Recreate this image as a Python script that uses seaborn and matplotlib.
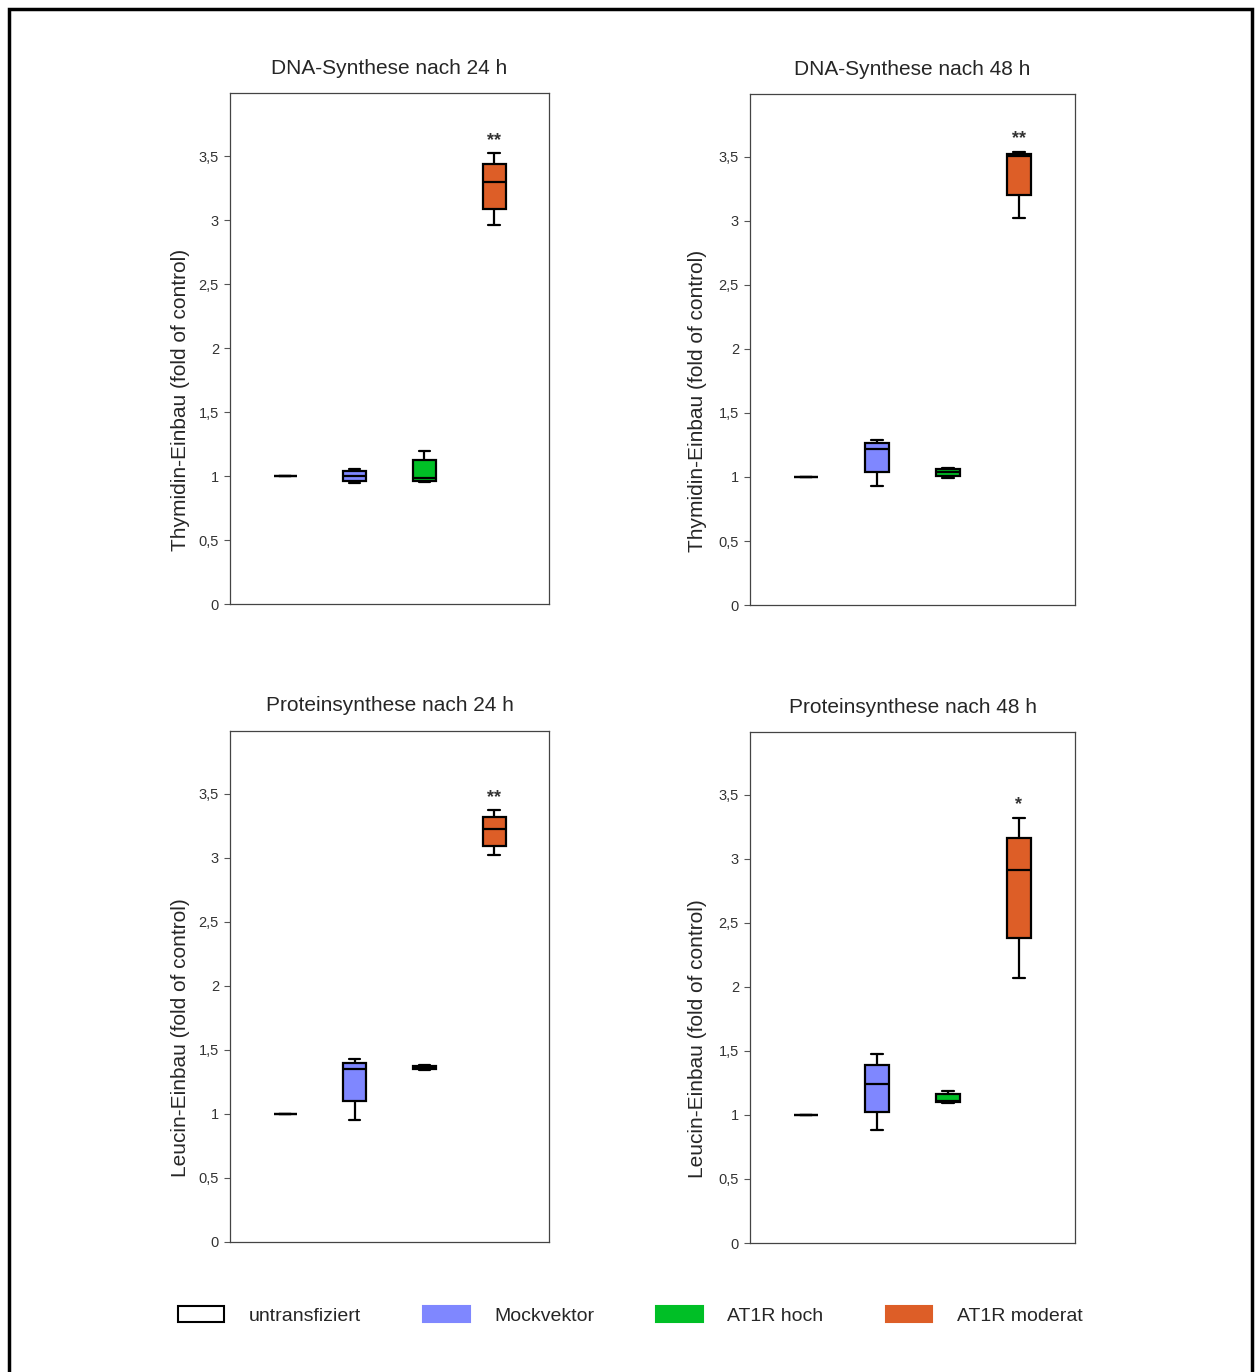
import seaborn as sns
import pandas as pd
import matplotlib as mpl
import matplotlib.pyplot as plt
from matplotlib.patches import Patch, Rectangle
import numpy as np

# groups and colours
groups = ["untransfiziert", "Mockvektor", "AT1R hoch", "AT1R moderat"]
colors = ["white", "#7F87FF", "#00BF26", "#DD5E27"]

# five-number summaries per group: [min, q1, median, q3, max]
dna_24 = [[1.0, 1.0, 1.0, 1.0, 1.0],
          [0.95, 0.96, 1.0, 1.04, 1.06],
          [0.955, 0.96, 0.99, 1.125, 1.20],
          [2.96, 3.09, 3.30, 3.44, 3.52]]
dna_48 = [[1.0, 1.0, 1.0, 1.0, 1.0],
          [0.93, 1.035, 1.22, 1.265, 1.29],
          [0.99, 1.01, 1.04, 1.06, 1.07],
          [3.02, 3.20, 3.505, 3.52, 3.54]]
prot_24 = [[1.0, 1.0, 1.0, 1.0, 1.0],
           [0.95, 1.10, 1.35, 1.40, 1.43],
           [1.345, 1.35, 1.36, 1.37, 1.38],
           [3.02, 3.095, 3.22, 3.32, 3.37]]
prot_48 = [[1.0, 1.0, 1.0, 1.0, 1.0],
           [0.885, 1.025, 1.245, 1.39, 1.475],
           [1.09, 1.10, 1.11, 1.165, 1.19],
           [2.07, 2.38, 2.91, 3.16, 3.32]]

titles = ["DNA-Synthese nach 24 h", "DNA-Synthese nach 48 h",
          "Proteinsynthese nach 24 h", "Proteinsynthese nach 48 h"]
ylabels = ["Thymidin-Einbau (fold of control)", "Thymidin-Einbau (fold of control)",
           "Leucin-Einbau (fold of control)", "Leucin-Einbau (fold of control)"]
stars = ["**", "**", "**", "*"]
yticks = [0, 0.5, 1, 1.5, 2, 2.5, 3, 3.5]
ytick_labels = ["0", "0,5", "1", "1,5", "2", "2,5", "3", "3,5"]

sns.set_style("white")
plt.rcParams['font.family'] = ['Liberation Sans', 'DejaVu Sans']

fig = plt.figure(figsize=(12.55, 13.72), dpi=100)
positions = [(0.1833, 0.5595, 0.2542, 0.3725), (0.5976, 0.5590, 0.2590, 0.3725),
             (0.1833, 0.0948, 0.2542, 0.3725), (0.5976, 0.0940, 0.2590, 0.3725)]
label_x = [-0.125, -0.132, -0.125, -0.132]

for i, (pos, data, title, ylab, star) in enumerate(zip(positions, [dna_24, dna_48, prot_24, prot_48],
                                                       titles, ylabels, stars)):
    ax = fig.add_axes(pos)
    df = pd.DataFrame({"group": np.repeat(groups, 5),
                       "value": np.concatenate(data)})
    sns.boxplot(data=df, x="group", y="value", hue="group", order=groups, hue_order=groups,
                palette=colors, saturation=1, whis=(0, 100), width=0.33, linewidth=1.6,
                linecolor="black", legend=False, ax=ax,
                whiskerprops={"linewidth": 1.6}, capprops={"linewidth": 1.6},
                medianprops={"linewidth": 1.6, "color": "black"})
    ax.set_xlim(-0.79, 3.79)
    ax.set_ylim(0, 3.99)
    ax.set_xticks([])
    ax.set_xlabel("")
    ax.set_yticks(yticks)
    ax.set_yticklabels(ytick_labels, fontsize=10.5, color="#333333")
    ax.tick_params(axis="y", left=True, length=4, width=0.8, color="#555555", pad=4)
    ax.set_ylabel(ylab, fontsize=15)
    ax.yaxis.set_label_coords(label_x[i], 0.40)
    ax.set_title(title, fontsize=15, pad=14)
    for sp in ax.spines.values():
        sp.set_visible(True)
        sp.set_color("#444444")
        sp.set_linewidth(0.9)
    ax.text(3, data[3][4] + 0.1, star, ha="center", va="center", fontsize=13,
            color="#333333", fontweight="bold")

handles = [Patch(facecolor=c, edgecolor="black" if c == "white" else c, linewidth=1.5)
           for c in colors]
fig.legend(handles, groups, loc="center", bbox_to_anchor=(0.502, 0.0415), ncol=4,
           frameon=False, fontsize=14, handlelength=2.4, handleheight=0.95,
           handletextpad=1.25, columnspacing=3.2)

# outer frame
fig.patches.append(Rectangle((8.5 / 1255, -0.01), (1252 - 8.5) / 1255, 1 - 8.5 / 1372 + 0.01,
                             transform=fig.transFigure, fill=False, edgecolor="black",
                             linewidth=2.5))

fig.savefig("out.png", dpi=100)
